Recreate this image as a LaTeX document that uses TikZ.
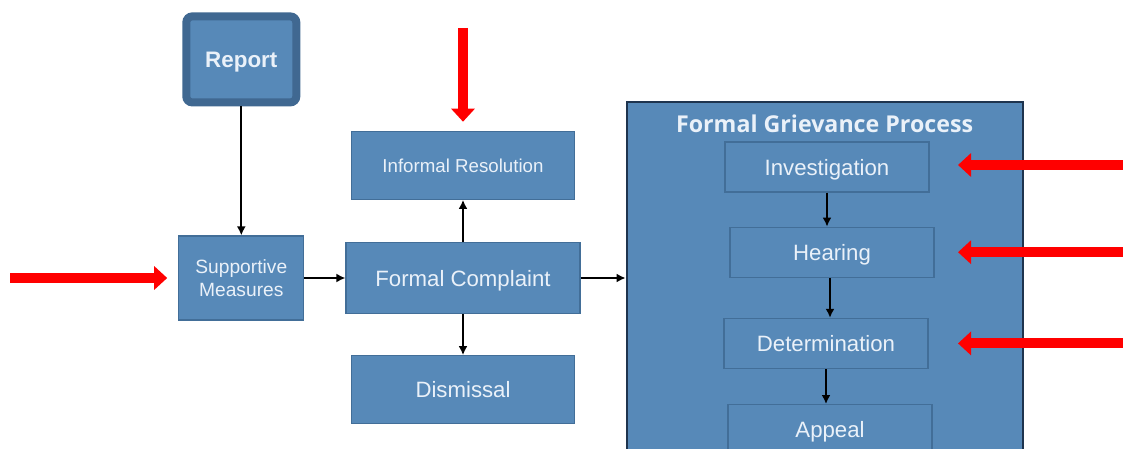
\documentclass[tikz,border=0pt]{standalone}
\usepackage{fontspec}
\setmainfont{Liberation Sans}
\newfontfamily\headfont{Open Sans}
\usetikzlibrary{positioning, arrows.meta}

\definecolor{boxblue}{RGB}{87,137,184}
\definecolor{boxedge}{RGB}{66,110,152}
\definecolor{repedge}{RGB}{64,104,145}
\definecolor{navy}{RGB}{30,52,78}
\definecolor{boxtext}{RGB}{234,241,249}
\definecolor{alert}{RGB}{255,0,0}

\begin{document}
\begin{tikzpicture}[
  x=0.5pt, y=-0.5pt,
  blk/.style   ={draw=boxedge, fill=boxblue, line width=0.6pt, text=boxtext, align=center, inner sep=2pt, text depth=0pt, font=\fontsize{11.1}{13}\selectfont},
  report/.style={blk, draw=repedge, line width=4pt, rounded corners=3pt, minimum width=55pt, minimum height=43pt, font=\bfseries\fontsize{11.2}{13}\selectfont},
  wide/.style  ={blk, minimum width=111.5pt, minimum height=34pt},
  stage/.style ={blk, minimum width=102pt, minimum height=25pt},
  grp/.style   ={draw=navy, fill=boxblue, line width=1pt, minimum width=198pt, minimum height=176pt},
  flow/.style  ={-{Latex[length=4.5pt,width=4.5pt]}, line width=1pt, draw=black},
  hint/.style  ={-{Triangle[length=6.5pt,width=11.5pt]}, line width=5pt, draw=alert},
]
\useasboundingbox (0,0) rectangle (1123,449);
\clip (0,0) rectangle (1123,449);

% ---------- complaint path ----------
\node[blk, minimum width=117pt, minimum height=35.5pt] (fc) at (463,278) {Formal Complaint};
\node[blk, minimum width=62.5pt, minimum height=42pt, left=20.5pt of fc, font=\fontsize{9.6}{11.5}\selectfont] (sup) {Supportive\\Measures};
\node[report, above=64.5pt of sup] (rep) {Report};
\node[wide, above=21pt of fc, font=\fontsize{9.35}{11}\selectfont] (inf) {Informal Resolution};
\node[wide, below=20.5pt of fc] (dis) {Dismissal};

% ---------- grievance process ----------
\node[grp, right=22.5pt of fc] (gbox) {};
\node[font=\headfont\bfseries\fontsize{11.6}{13}\selectfont, text=boxtext, inner sep=0pt, below=6.5pt of gbox.north] (gtitle) {Formal Grievance Process};
\node[stage] (inv) at (827,167) {Investigation};
\node[stage, below=17pt of inv, xshift=2.5pt]   (hear) {Hearing};
\node[stage, below=20pt of hear, xshift=-3pt]   (det)  {Determination};
\node[stage, below=17.5pt of det, xshift=2pt]   (app)  {Appeal};

% ---------- flows ----------
\draw[flow] (rep) -- (sup);
\draw[flow] (sup) -- (fc);
\draw[flow] (fc) -- (inf);
\draw[flow] (fc) -- (dis);
\draw[flow] (fc) -- (gbox);
\draw[flow] (inv.south) -- (inv.south |- hear.north);
\draw[flow] ([xshift=-1pt]hear.south) -- ([xshift=-1pt]hear.south |- det.north);
\draw[flow] (det.south) -- (det.south |- app.north);

% ---------- red pointers ----------
\coordinate (lsrc) at (10,278);
\coordinate (tsrc) at (463,28);
\coordinate (rsrc) at (1126,0);
\coordinate (rtip) at (958,0);
\draw[hint] (lsrc) -- ([xshift=-5.5pt]sup.west);
\draw[hint] (tsrc) -- ([yshift=4.5pt]inf.north);
\draw[hint] ([yshift=1pt]inv.east -| rsrc) -- ([yshift=1pt]inv.east -| rtip);
\draw[hint] (hear.east -| rsrc) -- (hear.east -| rtip);
\draw[hint] (det.east -| rsrc) -- (det.east -| rtip);

\end{tikzpicture}
\end{document}
